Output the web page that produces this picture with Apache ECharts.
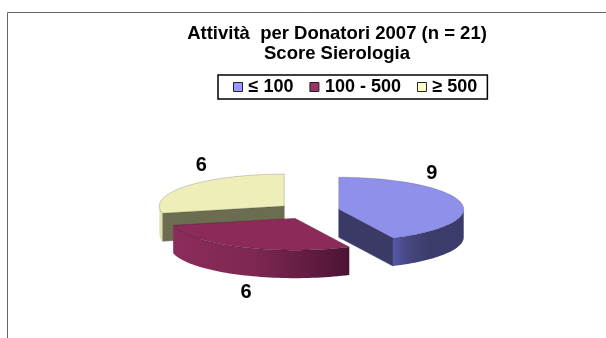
<!DOCTYPE html>
<html><head><meta charset="utf-8">
<style>html,body{margin:0;padding:0;background:#fff}#c{width:606px;height:338px}</style>
<script src="https://cdn.jsdelivr.net/npm/echarts@6/dist/echarts.min.js"></script>
</head><body><div id="c"></div>
<script>
const categories = ['≤ 100', '100 - 500', '≥ 500'];
const values = [9, 6, 6];
const titleLines = ['Attività  per Donatori 2007 (n = 21)', 'Score Sierologia'];

const look = [
  {top:'#8f90ea', legend:'#9999ff', radial:'#3b3a66', z:4, stops:[[0,'#5458a6'],[0.22,'#45477f'],[0.5,'#3c3c6c'],[1,'#3c3c6c']], label:[93,-36]},
  {top:'#8c2a5a', legend:'#993366', radial:'#5c1a3c', z:3, stops:[[0,'#8c2c5c'],[0.45,'#7e2752'],[0.8,'#5f1b40'],[1,'#4c1334']], label:[-49,74]},
  {top:'#eeeeb8', legend:'#ffffcc', radial:'#6c6c50', z:2, stops:[[0,'#e6e6b4'],[1,'#dcdca8']], label:[-83,-41]}
];
const CX = 308.5, CY = 211, RX = 125, RY = 32, DEPTH = 28, EXPLODE = 31;
const total = values.reduce((a, b) => a + b, 0);
const rad = d => d * Math.PI / 180;
const onRim = (o, deg, dy) => [o[0] + RX * Math.sin(rad(deg)), o[1] - RY * Math.cos(rad(deg)) + (dy || 0)];
function arc(o, a, b, dy) {
  const pts = [], n = Math.max(2, Math.ceil(Math.abs(b - a) / 2));
  for (let i = 0; i <= n; i++) pts.push(onRim(o, a + (b - a) * i / n, dy));
  return pts;
}
function sliceRender(i) {
  return function (params, api) {
    let start = 0;
    for (let k = 0; k < i; k++) start += values[k] / total * 360;
    const end = start + api.value(0) / total * 360;
    const mid = rad((start + end) / 2);
    const o = [CX + EXPLODE * Math.sin(mid), CY - EXPLODE * (RY / RX) * Math.cos(mid)];
    const s = look[i], children = [];
    const edge = '#00000040';
    // radial walls facing the viewer
    [[start, start - 90], [end, end + 90]].forEach(([deg, n]) => {
      if (Math.cos(rad(n)) < -0.01) {
        const p = onRim(o, deg);
        children.push({type:'polygon', z2:1, shape:{points:[o, p, [p[0], p[1] + DEPTH], [o[0], o[1] + DEPTH]]},
          style:{fill:s.radial, stroke:s.radial, lineWidth:0.5}});
      }
    });
    // outer wall: the part of the rim that faces the viewer
    const a = Math.max(start, 90), b = Math.min(end, 270);
    if (a < b) {
      const top = arc(o, a, b), bot = arc(o, a, b, DEPTH).reverse();
      children.push({type:'polygon', z2:2, shape:{points:top.concat(bot)},
        style:{stroke:null, fill:{type:'linear', x:0, y:0, x2:1, y2:0, global:false,
          colorStops:s.stops.map(c => ({offset:c[0], color:c[1]}))}}});
    }
    // top face
    children.push({type:'polygon', z2:3, shape:{points:[o].concat(arc(o, start, end))},
      style:{fill:s.top, stroke:edge, lineWidth:0.7}});
    // value label
    children.push({type:'text', z2:5, style:{x:o[0] + s.label[0], y:o[1] + s.label[1], text:String(api.value(0)),
      fill:'#000', font:'bold 20px "Liberation Sans", Arial, sans-serif', align:'center', verticalAlign:'middle'}});
    return {type:'group', children};
  };
}
const chart = echarts.init(document.getElementById('c'), null, {renderer:'canvas'});
chart.setOption({
  animation:false,
  backgroundColor:'#fff',
  title:{text:titleLines.join('\n'), left:332, top:19, textAlign:'center',
    textStyle:{fontFamily:'"Liberation Sans", Arial, sans-serif', fontWeight:'bold', fontSize:18.5, lineHeight:20, color:'#000'}},
  legend:{left:218, top:75, orient:'horizontal', data:categories, icon:'rect', itemWidth:9, itemHeight:9, itemGap:16,
    padding:[3,10,3,15], borderColor:'#000', borderWidth:1.5, backgroundColor:'#fff', selectedMode:false,
    itemStyle:{borderColor:'#222', borderWidth:1},
    textStyle:{fontFamily:'"Liberation Sans", Arial, sans-serif', fontWeight:'bold', fontSize:18, color:'#000', padding:[0,0,0,1]}},
  graphic:[{type:'polyline', silent:true, shape:{points:[[7.5,338],[7.5,12.5],[606,12.5]]},
    style:{stroke:'#666', lineWidth:1, fill:null}}],
  series:categories.map((name, i) => ({
    type:'custom', name, coordinateSystem:'none', z:look[i].z, silent:true,
    itemStyle:{color:look[i].legend},
    renderItem:sliceRender(i),
    data:[{name, value:values[i]}]
  }))
});
</script></body></html>
